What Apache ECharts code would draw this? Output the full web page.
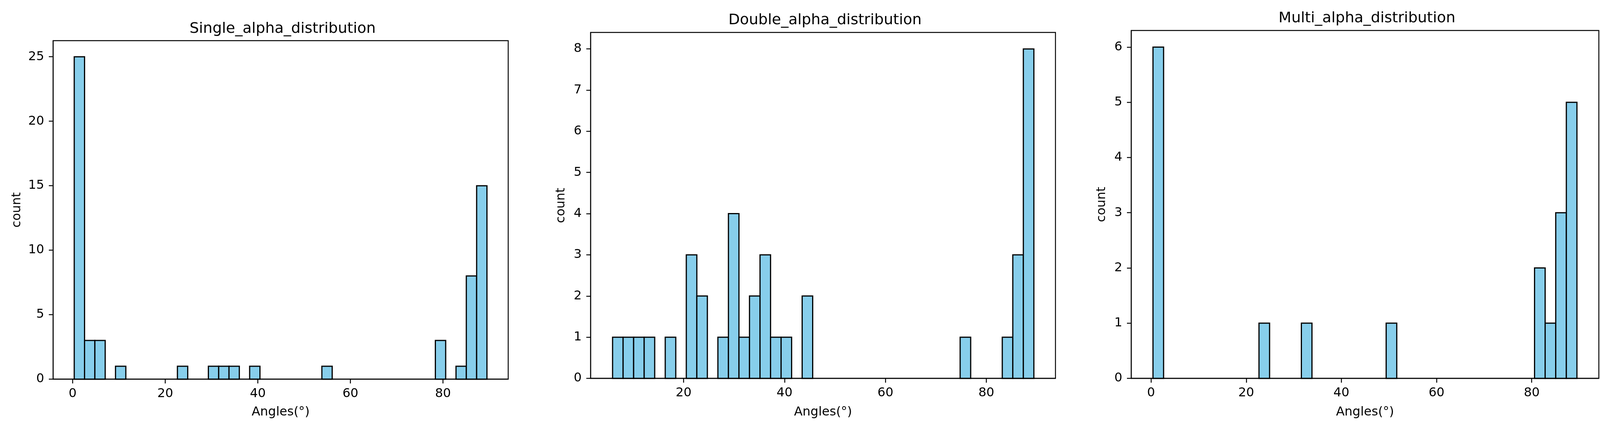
<!DOCTYPE html>
<html><head><meta charset="utf-8">
<script src="https://cdn.jsdelivr.net/npm/echarts@6/dist/echarts.min.js"></script>
<style>html,body{margin:0;padding:0;background:#fff}#c{width:4113px;height:1095px}</style>
</head><body><div id="c"></div>
<script>
// ---- data (40 bins per histogram) ----
const titles = ['Single_alpha_distribution', 'Double_alpha_distribution', 'Multi_alpha_distribution'];
const xName = 'Angles(°)';
const yName = 'count';

const singleCounts = [25,3,3,0,1,0,0,0,0,0, 1,0,0,1,1,1,0,1,0,0, 0,0,0,0,1,0,0,0,0,0, 0,0,0,0,0,3,0,1,8,15];
const doubleCounts = [1,1,1,1,0,1,0,3,2,0, 1,4,1,2,3,1,1,0,2,0, 0,0,0,0,0,0,0,0,0,0, 0,0,0,1,0,0,0,1,3,8];
const multiCounts  = [6,0,0,0,0,0,0,0,0,0, 1,0,0,0,1,0,0,0,0,0, 0,0,1,0,0,0,0,0,0,0, 0,0,0,0,0,0,2,1,3,5];

// histogram data range (first bin edge, last bin edge)
const singleRange = [0.34, 89.5];
const doubleRange = [5.92, 89.42];
const multiRange  = [0.41, 89.5];

// axis limits
const singleXLim = [-4.22, 94.09], singleYMax = 26.25;
const doubleXLim = [1.57, 93.7],   doubleYMax = 8.4;
const multiXLim  = [-4.16, 94.1],  multiYMax  = 6.3;

// tick labels
const singleXTicks = [0, 20, 40, 60, 80];
const doubleXTicks = [20, 40, 60, 80];
const multiXTicks  = [0, 20, 40, 60, 80];
const singleYTicks = [0, 5, 10, 15, 20, 25];
const doubleYTicks = [0, 1, 2, 3, 4, 5, 6, 7, 8];
const multiYTicks  = [0, 1, 2, 3, 4, 5, 6];

// ---- layout ----
const FONT = 'DejaVu Sans';
const grids = [
  {left: 136, top: 104, width: 1165, height: 866},
  {left: 1512, top: 83, width: 1190, height: 885},
  {left: 2896, top: 78, width: 1197, height: 890}
];
const titleTops = [50, 28, 23];
const xNameGaps = [69, 71, 71];
const yNameGaps = [76, 59, 59];

const panels = [
  {counts: singleCounts, range: singleRange, xlim: singleXLim, ymax: singleYMax, xt: singleXTicks, yt: singleYTicks},
  {counts: doubleCounts, range: doubleRange, xlim: doubleXLim, ymax: doubleYMax, xt: doubleXTicks, yt: doubleYTicks},
  {counts: multiCounts,  range: multiRange,  xlim: multiXLim,  ymax: multiYMax,  xt: multiXTicks,  yt: multiYTicks}
];

function binData(counts, range) {
  const n = counts.length, w = (range[1] - range[0]) / n;
  const out = [];
  for (let i = 0; i < n; i++) {
    if (counts[i] > 0) out.push([range[0] + i * w, range[0] + (i + 1) * w, counts[i]]);
  }
  return out;
}

const option = {
  backgroundColor: '#ffffff',
  animation: false,
  title: [], grid: [], xAxis: [], yAxis: [], series: []
};

panels.forEach((p, k) => {
  const g = grids[k];
  option.title.push({
    text: titles[k], left: g.left + g.width / 2, top: titleTops[k], textAlign: 'center',
    textStyle: {fontFamily: FONT, fontSize: 38, fontWeight: 'normal', color: '#000'}
  });
  option.grid.push({
    left: g.left, top: g.top, width: g.width, height: g.height,
    show: true, borderColor: '#000', borderWidth: 2.4, backgroundColor: 'transparent', containLabel: false
  });
  option.xAxis.push({
    type: 'value', gridIndex: k, min: p.xlim[0], max: p.xlim[1],
    name: xName, nameLocation: 'middle', nameGap: xNameGaps[k],
    nameTextStyle: {fontFamily: FONT, fontSize: 32, color: '#000'},
    axisLine: {show: true, onZero: false, lineStyle: {color: '#000', width: 2.4}},
    axisTick: {show: true, length: 11, lineStyle: {color: '#000', width: 2.4}, customValues: p.xt},
    axisLabel: {show: true, margin: 22, fontFamily: FONT, fontSize: 32, color: '#000', customValues: p.xt},
    splitLine: {show: false}
  });
  option.yAxis.push({
    type: 'value', gridIndex: k, min: 0, max: p.ymax,
    name: yName, nameLocation: 'middle', nameGap: yNameGaps[k],
    nameTextStyle: {fontFamily: FONT, fontSize: 32, color: '#000'},
    axisLine: {show: true, onZero: false, lineStyle: {color: '#000', width: 2.4}},
    axisTick: {show: true, length: 11, lineStyle: {color: '#000', width: 2.4}, customValues: p.yt},
    axisLabel: {show: true, margin: 23, fontFamily: FONT, fontSize: 32, color: '#000', customValues: p.yt},
    splitLine: {show: false}
  });
  option.series.push({
    type: 'custom', xAxisIndex: k, yAxisIndex: k,
    data: binData(p.counts, p.range),
    encode: {x: [0, 1], y: 2},
    renderItem: function (params, api) {
      const a = api.coord([api.value(0), api.value(2)]);
      const b = api.coord([api.value(1), 0]);
      return {
        type: 'rect',
        shape: {x: a[0], y: a[1], width: b[0] - a[0], height: b[1] - a[1]},
        style: {fill: '#87CEEB', stroke: '#000', lineWidth: 3}
      };
    }
  });
});

const chart = echarts.init(document.getElementById('c'), null, {renderer: 'canvas'});
chart.setOption(option);
</script>
</body></html>
